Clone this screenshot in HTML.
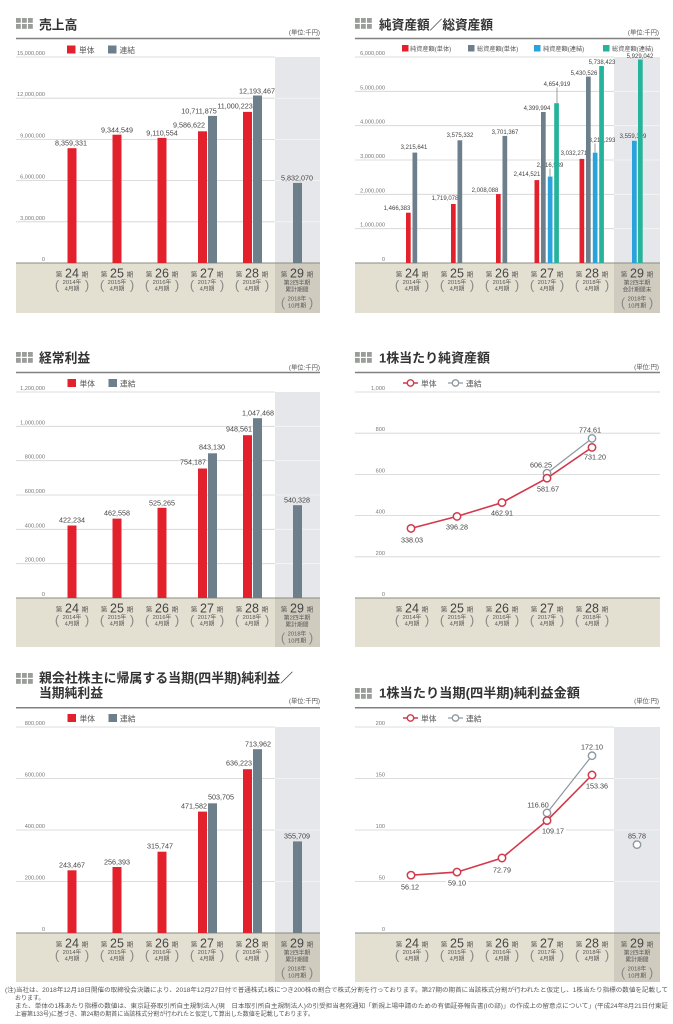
<!DOCTYPE html>
<html><head><meta charset="utf-8"><style>
html,body{margin:0;padding:0;background:#fff;}
svg{display:block;}
text{font-family:"Liberation Sans","Noto Sans CJK JP",sans-serif;}
.tk{font-size:5.6px;fill:#777;text-anchor:end}
.v{font-size:7.2px;fill:#444;text-anchor:middle}
.v2{font-size:6px;fill:#444;text-anchor:middle}
.cat text{text-anchor:middle;fill:#555}
.s{font-size:6.5px}
.n{font-size:12.5px;fill:#444 !important}
.m{font-size:5.8px}
.p{font-size:13px;fill:#888 !important}
.ti{font-size:12.8px;font-weight:bold;fill:#333}
.u{font-size:6.3px;fill:#555;text-anchor:end}
.lg{font-size:7.8px;fill:#555}
.lg2{font-size:6.2px;fill:#555}
.fn{font-size:6px;fill:#555}
.g{stroke:#d2d2d2;stroke-width:0.8}
.gw{stroke:#f6f6f6;stroke-width:0.8}
.bl{stroke:#8b8b80;stroke-width:1}
.rule{stroke:#808080;stroke-width:1.5}
.ic{fill:#9a9d9a}
.R{fill:#e3212d}.G{fill:#6d7f8b}.B{fill:#29a3dc}.T{fill:#25b39b}
.band{fill:#e3e0d1}.col{fill:#e6e7ea}.colb{fill:#cfccbf}
</style></head><body>
<svg width="673" height="1024" viewBox="0 0 673 1024" xmlns="http://www.w3.org/2000/svg">
<rect width="673" height="1024" fill="#fff"/>

<!-- ============ PANEL 1: 売上高 ============ -->
<g>
<g class="ic"><rect x="16" y="18" width="4.8" height="4.8"/><rect x="22" y="18" width="4.8" height="4.8"/><rect x="28" y="18" width="4.8" height="4.8"/><rect x="16" y="24" width="4.8" height="4.8"/><rect x="22" y="24" width="4.8" height="4.8"/><rect x="28" y="24" width="4.8" height="4.8"/></g>
<text x="39" y="29.5" class="ti">売上高</text>
<text x="320" y="34.5" class="u">(単位:千円)</text>
<line x1="16" y1="38.5" x2="320" y2="38.5" class="rule"/>
<rect x="67" y="45.5" width="8.5" height="8" class="R"/><text x="79" y="52.8" class="lg">単体</text>
<rect x="108" y="45.5" width="8.5" height="8" class="G"/><text x="119.5" y="52.8" class="lg">連結</text>
<rect x="275" y="57" width="45" height="206" class="col"/>
<rect x="16" y="263" width="304" height="50" class="band"/>
<rect x="275" y="263" width="45" height="50" class="colb"/>
<line x1="16" y1="57" x2="275" y2="57" class="g"/>
<line x1="16" y1="98.2" x2="275" y2="98.2" class="g"/><line x1="275" y1="98.2" x2="320" y2="98.2" class="gw"/>
<line x1="16" y1="139.4" x2="275" y2="139.4" class="g"/><line x1="275" y1="139.4" x2="320" y2="139.4" class="gw"/>
<line x1="16" y1="180.6" x2="275" y2="180.6" class="g"/><line x1="275" y1="180.6" x2="320" y2="180.6" class="gw"/>
<line x1="16" y1="221.8" x2="275" y2="221.8" class="g"/><line x1="275" y1="221.8" x2="320" y2="221.8" class="gw"/>
<line x1="16" y1="263" x2="320" y2="263" class="bl"/>
<text x="45" y="55" class="tk">15,000,000</text>
<text x="45" y="96.2" class="tk">12,000,000</text>
<text x="45" y="137.4" class="tk">9,000,000</text>
<text x="45" y="178.6" class="tk">6,000,000</text>
<text x="45" y="219.8" class="tk">3,000,000</text>
<text x="45" y="261" class="tk">0</text>
<rect x="67.5" y="148.2" width="9" height="114.8" class="R"/>
<rect x="112.5" y="134.7" width="9" height="128.3" class="R"/>
<rect x="157.5" y="137.9" width="9" height="125.1" class="R"/>
<rect x="198" y="131.3" width="9" height="131.7" class="R"/>
<rect x="208" y="115.9" width="9" height="147.1" class="G"/>
<rect x="243" y="111.9" width="9" height="151.1" class="R"/>
<rect x="253" y="95.5" width="9" height="167.5" class="G"/>
<rect x="293" y="182.9" width="9" height="80.1" class="G"/>
<text x="71" y="145.5" class="v">8,359,331</text>
<text x="117" y="132.5" class="v">9,344,549</text>
<text x="162" y="135.5" class="v">9,110,554</text>
<text x="189" y="127.5" class="v">9,586,622</text>
<text x="199" y="113.5" class="v">10,711,875</text>
<text x="235" y="108.5" class="v">11,000,223</text>
<text x="257" y="93.5" class="v">12,193,467</text>
<text x="297" y="180.5" class="v">5,832,070</text>
<g class="cat" transform="translate(72,263)"><text x="-13" y="13.5" class="s">第</text><text x="0" y="14.5" class="n">24</text><text x="13" y="13.5" class="s">期</text><text x="-15" y="26.5" class="p">(</text><text x="0" y="21" class="m">2014年</text><text x="0" y="27.5" class="m">4月期</text><text x="15" y="26.5" class="p">)</text></g>
<g class="cat" transform="translate(117,263)"><text x="-13" y="13.5" class="s">第</text><text x="0" y="14.5" class="n">25</text><text x="13" y="13.5" class="s">期</text><text x="-15" y="26.5" class="p">(</text><text x="0" y="21" class="m">2015年</text><text x="0" y="27.5" class="m">4月期</text><text x="15" y="26.5" class="p">)</text></g>
<g class="cat" transform="translate(162,263)"><text x="-13" y="13.5" class="s">第</text><text x="0" y="14.5" class="n">26</text><text x="13" y="13.5" class="s">期</text><text x="-15" y="26.5" class="p">(</text><text x="0" y="21" class="m">2016年</text><text x="0" y="27.5" class="m">4月期</text><text x="15" y="26.5" class="p">)</text></g>
<g class="cat" transform="translate(207,263)"><text x="-13" y="13.5" class="s">第</text><text x="0" y="14.5" class="n">27</text><text x="13" y="13.5" class="s">期</text><text x="-15" y="26.5" class="p">(</text><text x="0" y="21" class="m">2017年</text><text x="0" y="27.5" class="m">4月期</text><text x="15" y="26.5" class="p">)</text></g>
<g class="cat" transform="translate(252,263)"><text x="-13" y="13.5" class="s">第</text><text x="0" y="14.5" class="n">28</text><text x="13" y="13.5" class="s">期</text><text x="-15" y="26.5" class="p">(</text><text x="0" y="21" class="m">2018年</text><text x="0" y="27.5" class="m">4月期</text><text x="15" y="26.5" class="p">)</text></g>
<g class="cat" transform="translate(297,263)"><text x="-13" y="13.5" class="s">第</text><text x="0" y="14.5" class="n">29</text><text x="13" y="13.5" class="s">期</text><text x="0" y="21.5" class="m">第2四半期</text><text x="0" y="28.5" class="m">累計期間</text><text x="-14" y="44" class="p">(</text><text x="0" y="37.5" class="m">2018年</text><text x="0" y="44.5" class="m">10月期</text><text x="14" y="44" class="p">)</text></g>
</g>

<!-- ============ PANEL 2: 純資産額／総資産額 ============ -->
<g>
<g class="ic"><rect x="355" y="18" width="4.8" height="4.8"/><rect x="361" y="18" width="4.8" height="4.8"/><rect x="367" y="18" width="4.8" height="4.8"/><rect x="355" y="24" width="4.8" height="4.8"/><rect x="361" y="24" width="4.8" height="4.8"/><rect x="367" y="24" width="4.8" height="4.8"/></g>
<text x="379" y="29.5" class="ti" textLength="114" lengthAdjust="spacingAndGlyphs">純資産額／総資産額</text>
<text x="659" y="34.5" class="u">(単位:千円)</text>
<line x1="355" y1="38.5" x2="660" y2="38.5" class="rule"/>
<rect x="402" y="45" width="6.5" height="6.5" class="R"/><text x="410" y="51" class="lg2">純資産額(単体)</text>
<rect x="468" y="45" width="6.5" height="6.5" class="G"/><text x="477" y="51" class="lg2">総資産額(単体)</text>
<rect x="534" y="45" width="6.5" height="6.5" class="B"/><text x="543" y="51" class="lg2">純資産額(連結)</text>
<rect x="603" y="45" width="6.5" height="6.5" class="T"/><text x="612" y="51" class="lg2">総資産額(連結)</text>
<rect x="614" y="57" width="46" height="206" class="col"/>
<rect x="355" y="263" width="305" height="50" class="band"/>
<rect x="614" y="263" width="46" height="50" class="colb"/>
<line x1="355" y1="57" x2="614" y2="57" class="g"/>
<line x1="355" y1="91.3" x2="614" y2="91.3" class="g"/><line x1="614" y1="91.3" x2="660" y2="91.3" class="gw"/>
<line x1="355" y1="125.7" x2="614" y2="125.7" class="g"/><line x1="614" y1="125.7" x2="660" y2="125.7" class="gw"/>
<line x1="355" y1="160" x2="614" y2="160" class="g"/><line x1="614" y1="160" x2="660" y2="160" class="gw"/>
<line x1="355" y1="194.3" x2="614" y2="194.3" class="g"/><line x1="614" y1="194.3" x2="660" y2="194.3" class="gw"/>
<line x1="355" y1="228.7" x2="614" y2="228.7" class="g"/><line x1="614" y1="228.7" x2="660" y2="228.7" class="gw"/>
<line x1="355" y1="263" x2="660" y2="263" class="bl"/>
<text x="385" y="55" class="tk">6,000,000</text>
<text x="385" y="89.3" class="tk">5,000,000</text>
<text x="385" y="123.7" class="tk">4,000,000</text>
<text x="385" y="158" class="tk">3,000,000</text>
<text x="385" y="192.3" class="tk">2,000,000</text>
<text x="385" y="226.7" class="tk">1,000,000</text>
<text x="385" y="261" class="tk">0</text>
<!-- labels behind bars -->
<text x="397" y="210" class="v2">1,466,383</text>
<text x="414" y="149" class="v2">3,215,641</text>
<text x="445" y="200" class="v2">1,719,078</text>
<text x="460" y="137" class="v2">3,575,332</text>
<text x="485" y="192" class="v2">2,008,088</text>
<text x="505" y="134" class="v2">3,701,367</text>
<text x="527" y="176" class="v2">2,414,521</text>
<text x="537" y="110" class="v2">4,399,994</text>
<text x="550" y="167" class="v2">2,516,539</text>
<text x="557" y="86" class="v2">4,654,919</text>
<text x="574" y="155" class="v2">3,032,271</text>
<text x="584" y="75" class="v2">5,430,526</text>
<text x="602" y="142" class="v2">3,212,293</text>
<text x="602" y="64" class="v2">5,738,423</text>
<text x="633" y="138" class="v2">3,559,399</text>
<text x="640" y="58" class="v2">5,929,042</text>
<g stroke="#777" stroke-width="0.7"><line x1="550" y1="168.5" x2="550" y2="176.6"/><line x1="557" y1="87.5" x2="557" y2="103.2"/><line x1="595" y1="143.5" x2="595" y2="152.7"/></g>
<rect x="406" y="212.7" width="4.7" height="50.3" class="R"/>
<rect x="412.5" y="152.6" width="4.7" height="110.4" class="G"/>
<rect x="451" y="204" width="4.7" height="59" class="R"/>
<rect x="457.5" y="140.3" width="4.7" height="122.7" class="G"/>
<rect x="496" y="194.1" width="4.7" height="68.9" class="R"/>
<rect x="502.5" y="135.9" width="4.7" height="127.1" class="G"/>
<rect x="534.5" y="180.1" width="4.7" height="82.9" class="R"/>
<rect x="541" y="112" width="4.7" height="151" class="G"/>
<rect x="547.8" y="176.6" width="4.7" height="86.4" class="B"/>
<rect x="554.2" y="103.2" width="4.7" height="159.8" class="T"/>
<rect x="579.5" y="158.9" width="4.7" height="104.1" class="R"/>
<rect x="586" y="76.6" width="4.7" height="186.4" class="G"/>
<rect x="592.8" y="152.7" width="4.7" height="110.3" class="B"/>
<rect x="599.2" y="66" width="4.7" height="197" class="T"/>
<rect x="632" y="140.8" width="4.7" height="122.2" class="B"/>
<rect x="638" y="59.5" width="4.7" height="203.5" class="T"/>
<g class="cat" transform="translate(412,263)"><text x="-13" y="13.5" class="s">第</text><text x="0" y="14.5" class="n">24</text><text x="13" y="13.5" class="s">期</text><text x="-15" y="26.5" class="p">(</text><text x="0" y="21" class="m">2014年</text><text x="0" y="27.5" class="m">4月期</text><text x="15" y="26.5" class="p">)</text></g>
<g class="cat" transform="translate(457,263)"><text x="-13" y="13.5" class="s">第</text><text x="0" y="14.5" class="n">25</text><text x="13" y="13.5" class="s">期</text><text x="-15" y="26.5" class="p">(</text><text x="0" y="21" class="m">2015年</text><text x="0" y="27.5" class="m">4月期</text><text x="15" y="26.5" class="p">)</text></g>
<g class="cat" transform="translate(502,263)"><text x="-13" y="13.5" class="s">第</text><text x="0" y="14.5" class="n">26</text><text x="13" y="13.5" class="s">期</text><text x="-15" y="26.5" class="p">(</text><text x="0" y="21" class="m">2016年</text><text x="0" y="27.5" class="m">4月期</text><text x="15" y="26.5" class="p">)</text></g>
<g class="cat" transform="translate(547,263)"><text x="-13" y="13.5" class="s">第</text><text x="0" y="14.5" class="n">27</text><text x="13" y="13.5" class="s">期</text><text x="-15" y="26.5" class="p">(</text><text x="0" y="21" class="m">2017年</text><text x="0" y="27.5" class="m">4月期</text><text x="15" y="26.5" class="p">)</text></g>
<g class="cat" transform="translate(592,263)"><text x="-13" y="13.5" class="s">第</text><text x="0" y="14.5" class="n">28</text><text x="13" y="13.5" class="s">期</text><text x="-15" y="26.5" class="p">(</text><text x="0" y="21" class="m">2018年</text><text x="0" y="27.5" class="m">4月期</text><text x="15" y="26.5" class="p">)</text></g>
<g class="cat" transform="translate(637,263)"><text x="-13" y="13.5" class="s">第</text><text x="0" y="14.5" class="n">29</text><text x="13" y="13.5" class="s">期</text><text x="0" y="21.5" class="m">第2四半期</text><text x="0" y="28.5" class="m">会計期間末</text><text x="-14" y="44" class="p">(</text><text x="0" y="37.5" class="m">2018年</text><text x="0" y="44.5" class="m">10月期</text><text x="14" y="44" class="p">)</text></g>
</g>

<!-- ============ PANEL 3: 経常利益 ============ -->
<g>
<g class="ic"><rect x="16" y="352" width="4.8" height="4.8"/><rect x="22" y="352" width="4.8" height="4.8"/><rect x="28" y="352" width="4.8" height="4.8"/><rect x="16" y="358" width="4.8" height="4.8"/><rect x="22" y="358" width="4.8" height="4.8"/><rect x="28" y="358" width="4.8" height="4.8"/></g>
<text x="39" y="362.5" class="ti">経常利益</text>
<text x="320" y="369.5" class="u">(単位:千円)</text>
<line x1="16" y1="372.5" x2="320" y2="372.5" class="rule"/>
<rect x="67.5" y="379" width="8.5" height="8" class="R"/><text x="79.5" y="386.3" class="lg">単体</text>
<rect x="108.5" y="379" width="8.5" height="8" class="G"/><text x="120" y="386.3" class="lg">連結</text>
<rect x="275" y="392" width="45" height="206" class="col"/>
<rect x="16" y="598" width="304" height="49" class="band"/>
<rect x="275" y="598" width="45" height="49" class="colb"/>
<line x1="16" y1="392" x2="275" y2="392" class="g"/>
<line x1="16" y1="426.3" x2="275" y2="426.3" class="g"/><line x1="275" y1="426.3" x2="320" y2="426.3" class="gw"/>
<line x1="16" y1="460.7" x2="275" y2="460.7" class="g"/><line x1="275" y1="460.7" x2="320" y2="460.7" class="gw"/>
<line x1="16" y1="495" x2="275" y2="495" class="g"/><line x1="275" y1="495" x2="320" y2="495" class="gw"/>
<line x1="16" y1="529.3" x2="275" y2="529.3" class="g"/><line x1="275" y1="529.3" x2="320" y2="529.3" class="gw"/>
<line x1="16" y1="563.7" x2="275" y2="563.7" class="g"/><line x1="275" y1="563.7" x2="320" y2="563.7" class="gw"/>
<line x1="16" y1="598" x2="320" y2="598" class="bl"/>
<text x="45" y="390" class="tk">1,200,000</text>
<text x="45" y="424.3" class="tk">1,000,000</text>
<text x="45" y="458.7" class="tk">800,000</text>
<text x="45" y="493" class="tk">600,000</text>
<text x="45" y="527.3" class="tk">400,000</text>
<text x="45" y="561.7" class="tk">200,000</text>
<text x="45" y="596" class="tk">0</text>
<rect x="67.5" y="525.5" width="9" height="72.5" class="R"/>
<rect x="112.5" y="518.6" width="9" height="79.4" class="R"/>
<rect x="157.5" y="507.8" width="9" height="90.2" class="R"/>
<rect x="198" y="468.5" width="9" height="129.5" class="R"/>
<rect x="208" y="453.3" width="9" height="144.7" class="G"/>
<rect x="243" y="435.2" width="9" height="162.8" class="R"/>
<rect x="253" y="418.2" width="9" height="179.8" class="G"/>
<rect x="293" y="505.2" width="9" height="92.8" class="G"/>
<text x="72" y="522.5" class="v">422,234</text>
<text x="117" y="515.5" class="v">462,558</text>
<text x="162" y="505.5" class="v">525,265</text>
<text x="193" y="464.5" class="v">754,187</text>
<text x="212" y="449.5" class="v">843,130</text>
<text x="239" y="431.5" class="v">948,561</text>
<text x="258" y="415.5" class="v">1,047,468</text>
<text x="297" y="502.5" class="v">540,328</text>
<g class="cat" transform="translate(72,598)"><text x="-13" y="13.5" class="s">第</text><text x="0" y="14.5" class="n">24</text><text x="13" y="13.5" class="s">期</text><text x="-15" y="26.5" class="p">(</text><text x="0" y="21" class="m">2014年</text><text x="0" y="27.5" class="m">4月期</text><text x="15" y="26.5" class="p">)</text></g>
<g class="cat" transform="translate(117,598)"><text x="-13" y="13.5" class="s">第</text><text x="0" y="14.5" class="n">25</text><text x="13" y="13.5" class="s">期</text><text x="-15" y="26.5" class="p">(</text><text x="0" y="21" class="m">2015年</text><text x="0" y="27.5" class="m">4月期</text><text x="15" y="26.5" class="p">)</text></g>
<g class="cat" transform="translate(162,598)"><text x="-13" y="13.5" class="s">第</text><text x="0" y="14.5" class="n">26</text><text x="13" y="13.5" class="s">期</text><text x="-15" y="26.5" class="p">(</text><text x="0" y="21" class="m">2016年</text><text x="0" y="27.5" class="m">4月期</text><text x="15" y="26.5" class="p">)</text></g>
<g class="cat" transform="translate(207,598)"><text x="-13" y="13.5" class="s">第</text><text x="0" y="14.5" class="n">27</text><text x="13" y="13.5" class="s">期</text><text x="-15" y="26.5" class="p">(</text><text x="0" y="21" class="m">2017年</text><text x="0" y="27.5" class="m">4月期</text><text x="15" y="26.5" class="p">)</text></g>
<g class="cat" transform="translate(252,598)"><text x="-13" y="13.5" class="s">第</text><text x="0" y="14.5" class="n">28</text><text x="13" y="13.5" class="s">期</text><text x="-15" y="26.5" class="p">(</text><text x="0" y="21" class="m">2018年</text><text x="0" y="27.5" class="m">4月期</text><text x="15" y="26.5" class="p">)</text></g>
<g class="cat" transform="translate(297,598)"><text x="-13" y="13.5" class="s">第</text><text x="0" y="14.5" class="n">29</text><text x="13" y="13.5" class="s">期</text><text x="0" y="21.5" class="m">第2四半期</text><text x="0" y="28.5" class="m">累計期間</text><text x="-14" y="44" class="p">(</text><text x="0" y="37.5" class="m">2018年</text><text x="0" y="44.5" class="m">10月期</text><text x="14" y="44" class="p">)</text></g>
</g>

<!-- ============ PANEL 4: 1株当たり純資産額 ============ -->
<g>
<g class="ic"><rect x="355" y="352" width="4.8" height="4.8"/><rect x="361" y="352" width="4.8" height="4.8"/><rect x="367" y="352" width="4.8" height="4.8"/><rect x="355" y="358" width="4.8" height="4.8"/><rect x="361" y="358" width="4.8" height="4.8"/><rect x="367" y="358" width="4.8" height="4.8"/></g>
<text x="379" y="362.5" class="ti" textLength="111" lengthAdjust="spacingAndGlyphs">1株当たり純資産額</text>
<text x="659" y="369" class="u">(単位:円)</text>
<line x1="355" y1="372.5" x2="660" y2="372.5" class="rule"/>
<line x1="403" y1="383" x2="418" y2="383" stroke="#d2394a" stroke-width="1.5"/><circle cx="410.5" cy="383" r="3.2" fill="#fff" stroke="#d2394a" stroke-width="1.4"/>
<text x="421" y="386.3" class="lg">単体</text>
<line x1="448" y1="383" x2="463" y2="383" stroke="#8d98a0" stroke-width="1.2"/><circle cx="455.5" cy="383" r="3.2" fill="#fff" stroke="#8d98a0" stroke-width="1.3"/>
<text x="466" y="386.3" class="lg">連結</text>
<rect x="355" y="598" width="305" height="49" class="band"/>
<line x1="355" y1="392" x2="660" y2="392" class="g"/>
<line x1="355" y1="433.2" x2="660" y2="433.2" class="g"/>
<line x1="355" y1="474.4" x2="660" y2="474.4" class="g"/>
<line x1="355" y1="515.6" x2="660" y2="515.6" class="g"/>
<line x1="355" y1="556.8" x2="660" y2="556.8" class="g"/>
<line x1="355" y1="598" x2="660" y2="598" class="bl"/>
<text x="385" y="390" class="tk">1,000</text>
<text x="385" y="431.2" class="tk">800</text>
<text x="385" y="472.4" class="tk">600</text>
<text x="385" y="513.6" class="tk">400</text>
<text x="385" y="554.8" class="tk">200</text>
<text x="385" y="596" class="tk">0</text>
<polyline points="547,473.1 592,438.4" fill="none" stroke="#8d98a0" stroke-width="1.2"/>
<polyline points="411,528.4 457,516.4 502,502.6 547,478.2 592,447.4" fill="none" stroke="#d2394a" stroke-width="1.6"/>
<g fill="#fff" stroke="#8d98a0" stroke-width="1.4"><circle cx="547" cy="473.1" r="3.7"/><circle cx="592" cy="438.4" r="3.7"/></g>
<g fill="#fff" stroke="#d2394a" stroke-width="1.5"><circle cx="411" cy="528.4" r="3.7"/><circle cx="457" cy="516.4" r="3.7"/><circle cx="502" cy="502.6" r="3.7"/><circle cx="547" cy="478.2" r="3.7"/><circle cx="592" cy="447.4" r="3.7"/></g>
<text x="412" y="542.5" class="v">338.03</text>
<text x="457" y="529.5" class="v">396.28</text>
<text x="502" y="515.5" class="v">462.91</text>
<text x="548" y="491.5" class="v">581.67</text>
<text x="595" y="459.5" class="v">731.20</text>
<text x="541" y="467.5" class="v">606.25</text>
<text x="590" y="432.5" class="v">774.61</text>
<g class="cat" transform="translate(412,598)"><text x="-13" y="13.5" class="s">第</text><text x="0" y="14.5" class="n">24</text><text x="13" y="13.5" class="s">期</text><text x="-15" y="26.5" class="p">(</text><text x="0" y="21" class="m">2014年</text><text x="0" y="27.5" class="m">4月期</text><text x="15" y="26.5" class="p">)</text></g>
<g class="cat" transform="translate(457,598)"><text x="-13" y="13.5" class="s">第</text><text x="0" y="14.5" class="n">25</text><text x="13" y="13.5" class="s">期</text><text x="-15" y="26.5" class="p">(</text><text x="0" y="21" class="m">2015年</text><text x="0" y="27.5" class="m">4月期</text><text x="15" y="26.5" class="p">)</text></g>
<g class="cat" transform="translate(502,598)"><text x="-13" y="13.5" class="s">第</text><text x="0" y="14.5" class="n">26</text><text x="13" y="13.5" class="s">期</text><text x="-15" y="26.5" class="p">(</text><text x="0" y="21" class="m">2016年</text><text x="0" y="27.5" class="m">4月期</text><text x="15" y="26.5" class="p">)</text></g>
<g class="cat" transform="translate(547,598)"><text x="-13" y="13.5" class="s">第</text><text x="0" y="14.5" class="n">27</text><text x="13" y="13.5" class="s">期</text><text x="-15" y="26.5" class="p">(</text><text x="0" y="21" class="m">2017年</text><text x="0" y="27.5" class="m">4月期</text><text x="15" y="26.5" class="p">)</text></g>
<g class="cat" transform="translate(592,598)"><text x="-13" y="13.5" class="s">第</text><text x="0" y="14.5" class="n">28</text><text x="13" y="13.5" class="s">期</text><text x="-15" y="26.5" class="p">(</text><text x="0" y="21" class="m">2018年</text><text x="0" y="27.5" class="m">4月期</text><text x="15" y="26.5" class="p">)</text></g>
</g>

<!-- ============ PANEL 5: 親会社株主に帰属する... ============ -->
<g>
<g class="ic"><rect x="16" y="673" width="4.8" height="4.8"/><rect x="22" y="673" width="4.8" height="4.8"/><rect x="28" y="673" width="4.8" height="4.8"/><rect x="16" y="679" width="4.8" height="4.8"/><rect x="22" y="679" width="4.8" height="4.8"/><rect x="28" y="679" width="4.8" height="4.8"/></g>
<text x="39" y="682.5" class="ti" textLength="254" lengthAdjust="spacingAndGlyphs">親会社株主に帰属する当期(四半期)純利益／</text>
<text x="39" y="697.5" class="ti">当期純利益</text>
<text x="320" y="703" class="u">(単位:千円)</text>
<line x1="16" y1="707.7" x2="320" y2="707.7" class="rule"/>
<rect x="67.5" y="714" width="8.5" height="8" class="R"/><text x="79.5" y="721.3" class="lg">単体</text>
<rect x="108.5" y="714" width="8.5" height="8" class="G"/><text x="120" y="721.3" class="lg">連結</text>
<rect x="275" y="727" width="45" height="206" class="col"/>
<rect x="16" y="933" width="304" height="49" class="band"/>
<rect x="275" y="933" width="45" height="49" class="colb"/>
<line x1="16" y1="727" x2="275" y2="727" class="g"/>
<line x1="16" y1="778.5" x2="275" y2="778.5" class="g"/><line x1="275" y1="778.5" x2="320" y2="778.5" class="gw"/>
<line x1="16" y1="830" x2="275" y2="830" class="g"/><line x1="275" y1="830" x2="320" y2="830" class="gw"/>
<line x1="16" y1="881.5" x2="275" y2="881.5" class="g"/><line x1="275" y1="881.5" x2="320" y2="881.5" class="gw"/>
<line x1="16" y1="933" x2="320" y2="933" class="bl"/>
<text x="45" y="725" class="tk">800,000</text>
<text x="45" y="776.5" class="tk">600,000</text>
<text x="45" y="828" class="tk">400,000</text>
<text x="45" y="879.5" class="tk">200,000</text>
<text x="45" y="931" class="tk">0</text>
<rect x="67.5" y="870.3" width="9" height="62.7" class="R"/>
<rect x="112.5" y="867" width="9" height="66" class="R"/>
<rect x="157.5" y="851.7" width="9" height="81.3" class="R"/>
<rect x="198" y="811.6" width="9" height="121.4" class="R"/>
<rect x="208" y="803.3" width="9" height="129.7" class="G"/>
<rect x="243" y="769.2" width="9" height="163.8" class="R"/>
<rect x="253" y="749.2" width="9" height="183.8" class="G"/>
<rect x="293" y="841.4" width="9" height="91.6" class="G"/>
<text x="72" y="867.5" class="v">243,467</text>
<text x="117" y="864.5" class="v">256,393</text>
<text x="160" y="848.5" class="v">315,747</text>
<text x="194" y="808.5" class="v">471,582</text>
<text x="221" y="799.5" class="v">503,705</text>
<text x="239" y="765.5" class="v">636,223</text>
<text x="258" y="746.5" class="v">713,962</text>
<text x="297" y="838.5" class="v">355,709</text>
<g class="cat" transform="translate(72,933)"><text x="-13" y="13.5" class="s">第</text><text x="0" y="14.5" class="n">24</text><text x="13" y="13.5" class="s">期</text><text x="-15" y="26.5" class="p">(</text><text x="0" y="21" class="m">2014年</text><text x="0" y="27.5" class="m">4月期</text><text x="15" y="26.5" class="p">)</text></g>
<g class="cat" transform="translate(117,933)"><text x="-13" y="13.5" class="s">第</text><text x="0" y="14.5" class="n">25</text><text x="13" y="13.5" class="s">期</text><text x="-15" y="26.5" class="p">(</text><text x="0" y="21" class="m">2015年</text><text x="0" y="27.5" class="m">4月期</text><text x="15" y="26.5" class="p">)</text></g>
<g class="cat" transform="translate(162,933)"><text x="-13" y="13.5" class="s">第</text><text x="0" y="14.5" class="n">26</text><text x="13" y="13.5" class="s">期</text><text x="-15" y="26.5" class="p">(</text><text x="0" y="21" class="m">2016年</text><text x="0" y="27.5" class="m">4月期</text><text x="15" y="26.5" class="p">)</text></g>
<g class="cat" transform="translate(207,933)"><text x="-13" y="13.5" class="s">第</text><text x="0" y="14.5" class="n">27</text><text x="13" y="13.5" class="s">期</text><text x="-15" y="26.5" class="p">(</text><text x="0" y="21" class="m">2017年</text><text x="0" y="27.5" class="m">4月期</text><text x="15" y="26.5" class="p">)</text></g>
<g class="cat" transform="translate(252,933)"><text x="-13" y="13.5" class="s">第</text><text x="0" y="14.5" class="n">28</text><text x="13" y="13.5" class="s">期</text><text x="-15" y="26.5" class="p">(</text><text x="0" y="21" class="m">2018年</text><text x="0" y="27.5" class="m">4月期</text><text x="15" y="26.5" class="p">)</text></g>
<g class="cat" transform="translate(297,933)"><text x="-13" y="13.5" class="s">第</text><text x="0" y="14.5" class="n">29</text><text x="13" y="13.5" class="s">期</text><text x="0" y="21.5" class="m">第2四半期</text><text x="0" y="28.5" class="m">累計期間</text><text x="-14" y="44" class="p">(</text><text x="0" y="37.5" class="m">2018年</text><text x="0" y="44.5" class="m">10月期</text><text x="14" y="44" class="p">)</text></g>
</g>

<!-- ============ PANEL 6: 1株当たり当期(四半期)純利益金額 ============ -->
<g>
<g class="ic"><rect x="355" y="688" width="4.8" height="4.8"/><rect x="361" y="688" width="4.8" height="4.8"/><rect x="367" y="688" width="4.8" height="4.8"/><rect x="355" y="694" width="4.8" height="4.8"/><rect x="361" y="694" width="4.8" height="4.8"/><rect x="367" y="694" width="4.8" height="4.8"/></g>
<text x="379" y="697.5" class="ti" textLength="201" lengthAdjust="spacingAndGlyphs">1株当たり当期(四半期)純利益金額</text>
<text x="659" y="703" class="u">(単位:円)</text>
<line x1="355" y1="707.7" x2="660" y2="707.7" class="rule"/>
<line x1="403" y1="718" x2="418" y2="718" stroke="#d2394a" stroke-width="1.5"/><circle cx="410.5" cy="718" r="3.2" fill="#fff" stroke="#d2394a" stroke-width="1.4"/>
<text x="421" y="721.3" class="lg">単体</text>
<line x1="448" y1="718" x2="463" y2="718" stroke="#8d98a0" stroke-width="1.2"/><circle cx="455.5" cy="718" r="3.2" fill="#fff" stroke="#8d98a0" stroke-width="1.3"/>
<text x="466" y="721.3" class="lg">連結</text>
<rect x="614" y="727" width="46" height="206" class="col"/>
<rect x="355" y="933" width="305" height="49" class="band"/>
<rect x="614" y="933" width="46" height="49" class="colb"/>
<line x1="355" y1="727" x2="614" y2="727" class="g"/>
<line x1="355" y1="778.5" x2="614" y2="778.5" class="g"/><line x1="614" y1="778.5" x2="660" y2="778.5" class="gw"/>
<line x1="355" y1="830" x2="614" y2="830" class="g"/><line x1="614" y1="830" x2="660" y2="830" class="gw"/>
<line x1="355" y1="881.5" x2="614" y2="881.5" class="g"/><line x1="614" y1="881.5" x2="660" y2="881.5" class="gw"/>
<line x1="355" y1="933" x2="660" y2="933" class="bl"/>
<text x="385" y="725" class="tk">200</text>
<text x="385" y="776.5" class="tk">150</text>
<text x="385" y="828" class="tk">100</text>
<text x="385" y="879.5" class="tk">50</text>
<text x="385" y="931" class="tk">0</text>
<polyline points="547,812.9 592,755.7" fill="none" stroke="#8d98a0" stroke-width="1.2"/>
<polyline points="411,875.2 457,872.1 502,858 547,820.6 592,775" fill="none" stroke="#d2394a" stroke-width="1.6"/>
<g fill="#fff" stroke="#8d98a0" stroke-width="1.4"><circle cx="547" cy="812.9" r="3.7"/><circle cx="592" cy="755.7" r="3.7"/><circle cx="637" cy="844.6" r="3.7"/></g>
<g fill="#fff" stroke="#d2394a" stroke-width="1.5"><circle cx="411" cy="875.2" r="3.7"/><circle cx="457" cy="872.1" r="3.7"/><circle cx="502" cy="858" r="3.7"/><circle cx="547" cy="820.6" r="3.7"/><circle cx="592" cy="775" r="3.7"/></g>
<g fill="#fff"><rect x="399" y="883" width="22" height="8"/><rect x="446" y="879" width="22" height="8"/><rect x="540" y="827" width="26" height="8"/></g>
<text x="410" y="889.5" class="v">56.12</text>
<text x="457" y="885.5" class="v">59.10</text>
<text x="502" y="872.5" class="v">72.79</text>
<text x="553" y="833.5" class="v">109.17</text>
<text x="597" y="788.5" class="v">153.36</text>
<text x="538" y="807.5" class="v">116.60</text>
<text x="592" y="749.5" class="v">172.10</text>
<text x="637" y="838.5" class="v">85.78</text>
<g class="cat" transform="translate(412,933)"><text x="-13" y="13.5" class="s">第</text><text x="0" y="14.5" class="n">24</text><text x="13" y="13.5" class="s">期</text><text x="-15" y="26.5" class="p">(</text><text x="0" y="21" class="m">2014年</text><text x="0" y="27.5" class="m">4月期</text><text x="15" y="26.5" class="p">)</text></g>
<g class="cat" transform="translate(457,933)"><text x="-13" y="13.5" class="s">第</text><text x="0" y="14.5" class="n">25</text><text x="13" y="13.5" class="s">期</text><text x="-15" y="26.5" class="p">(</text><text x="0" y="21" class="m">2015年</text><text x="0" y="27.5" class="m">4月期</text><text x="15" y="26.5" class="p">)</text></g>
<g class="cat" transform="translate(502,933)"><text x="-13" y="13.5" class="s">第</text><text x="0" y="14.5" class="n">26</text><text x="13" y="13.5" class="s">期</text><text x="-15" y="26.5" class="p">(</text><text x="0" y="21" class="m">2016年</text><text x="0" y="27.5" class="m">4月期</text><text x="15" y="26.5" class="p">)</text></g>
<g class="cat" transform="translate(547,933)"><text x="-13" y="13.5" class="s">第</text><text x="0" y="14.5" class="n">27</text><text x="13" y="13.5" class="s">期</text><text x="-15" y="26.5" class="p">(</text><text x="0" y="21" class="m">2017年</text><text x="0" y="27.5" class="m">4月期</text><text x="15" y="26.5" class="p">)</text></g>
<g class="cat" transform="translate(592,933)"><text x="-13" y="13.5" class="s">第</text><text x="0" y="14.5" class="n">28</text><text x="13" y="13.5" class="s">期</text><text x="-15" y="26.5" class="p">(</text><text x="0" y="21" class="m">2018年</text><text x="0" y="27.5" class="m">4月期</text><text x="15" y="26.5" class="p">)</text></g>
<g class="cat" transform="translate(637,933)"><text x="-13" y="13.5" class="s">第</text><text x="0" y="14.5" class="n">29</text><text x="13" y="13.5" class="s">期</text><text x="0" y="21.5" class="m">第2四半期</text><text x="0" y="28.5" class="m">累計期間</text><text x="-14" y="44" class="p">(</text><text x="0" y="37.5" class="m">2018年</text><text x="0" y="44.5" class="m">10月期</text><text x="14" y="44" class="p">)</text></g>
</g>

<!-- ============ FOOTNOTE ============ -->
<text x="5" y="992" class="fn" textLength="663" lengthAdjust="spacingAndGlyphs">(注)当社は、2018年12月18日開催の取締役会決議により、2018年12月27日付で普通株式1株につき200株の割合で株式分割を行っております。第27期の期首に当該株式分割が行われたと仮定し、1株当たり指標の数値を記載して</text>
<text x="15" y="1000" class="fn">おります。</text>
<text x="15" y="1008" class="fn" textLength="653" lengthAdjust="spacingAndGlyphs">また、単体の1株あたり指標の数値は、東京証券取引所自主規制法人(現　日本取引所自主規制法人)の引受担当者宛通知「新規上場申請のための有価証券報告書(Iの部)」の作成上の留意点について」(平成24年8月21日付東証</text>
<text x="15" y="1016" class="fn">上審第133号)に基づき、第24期の期首に当該株式分割が行われたと仮定して算出した数値を記載しております。</text>
</svg>
</body></html>
